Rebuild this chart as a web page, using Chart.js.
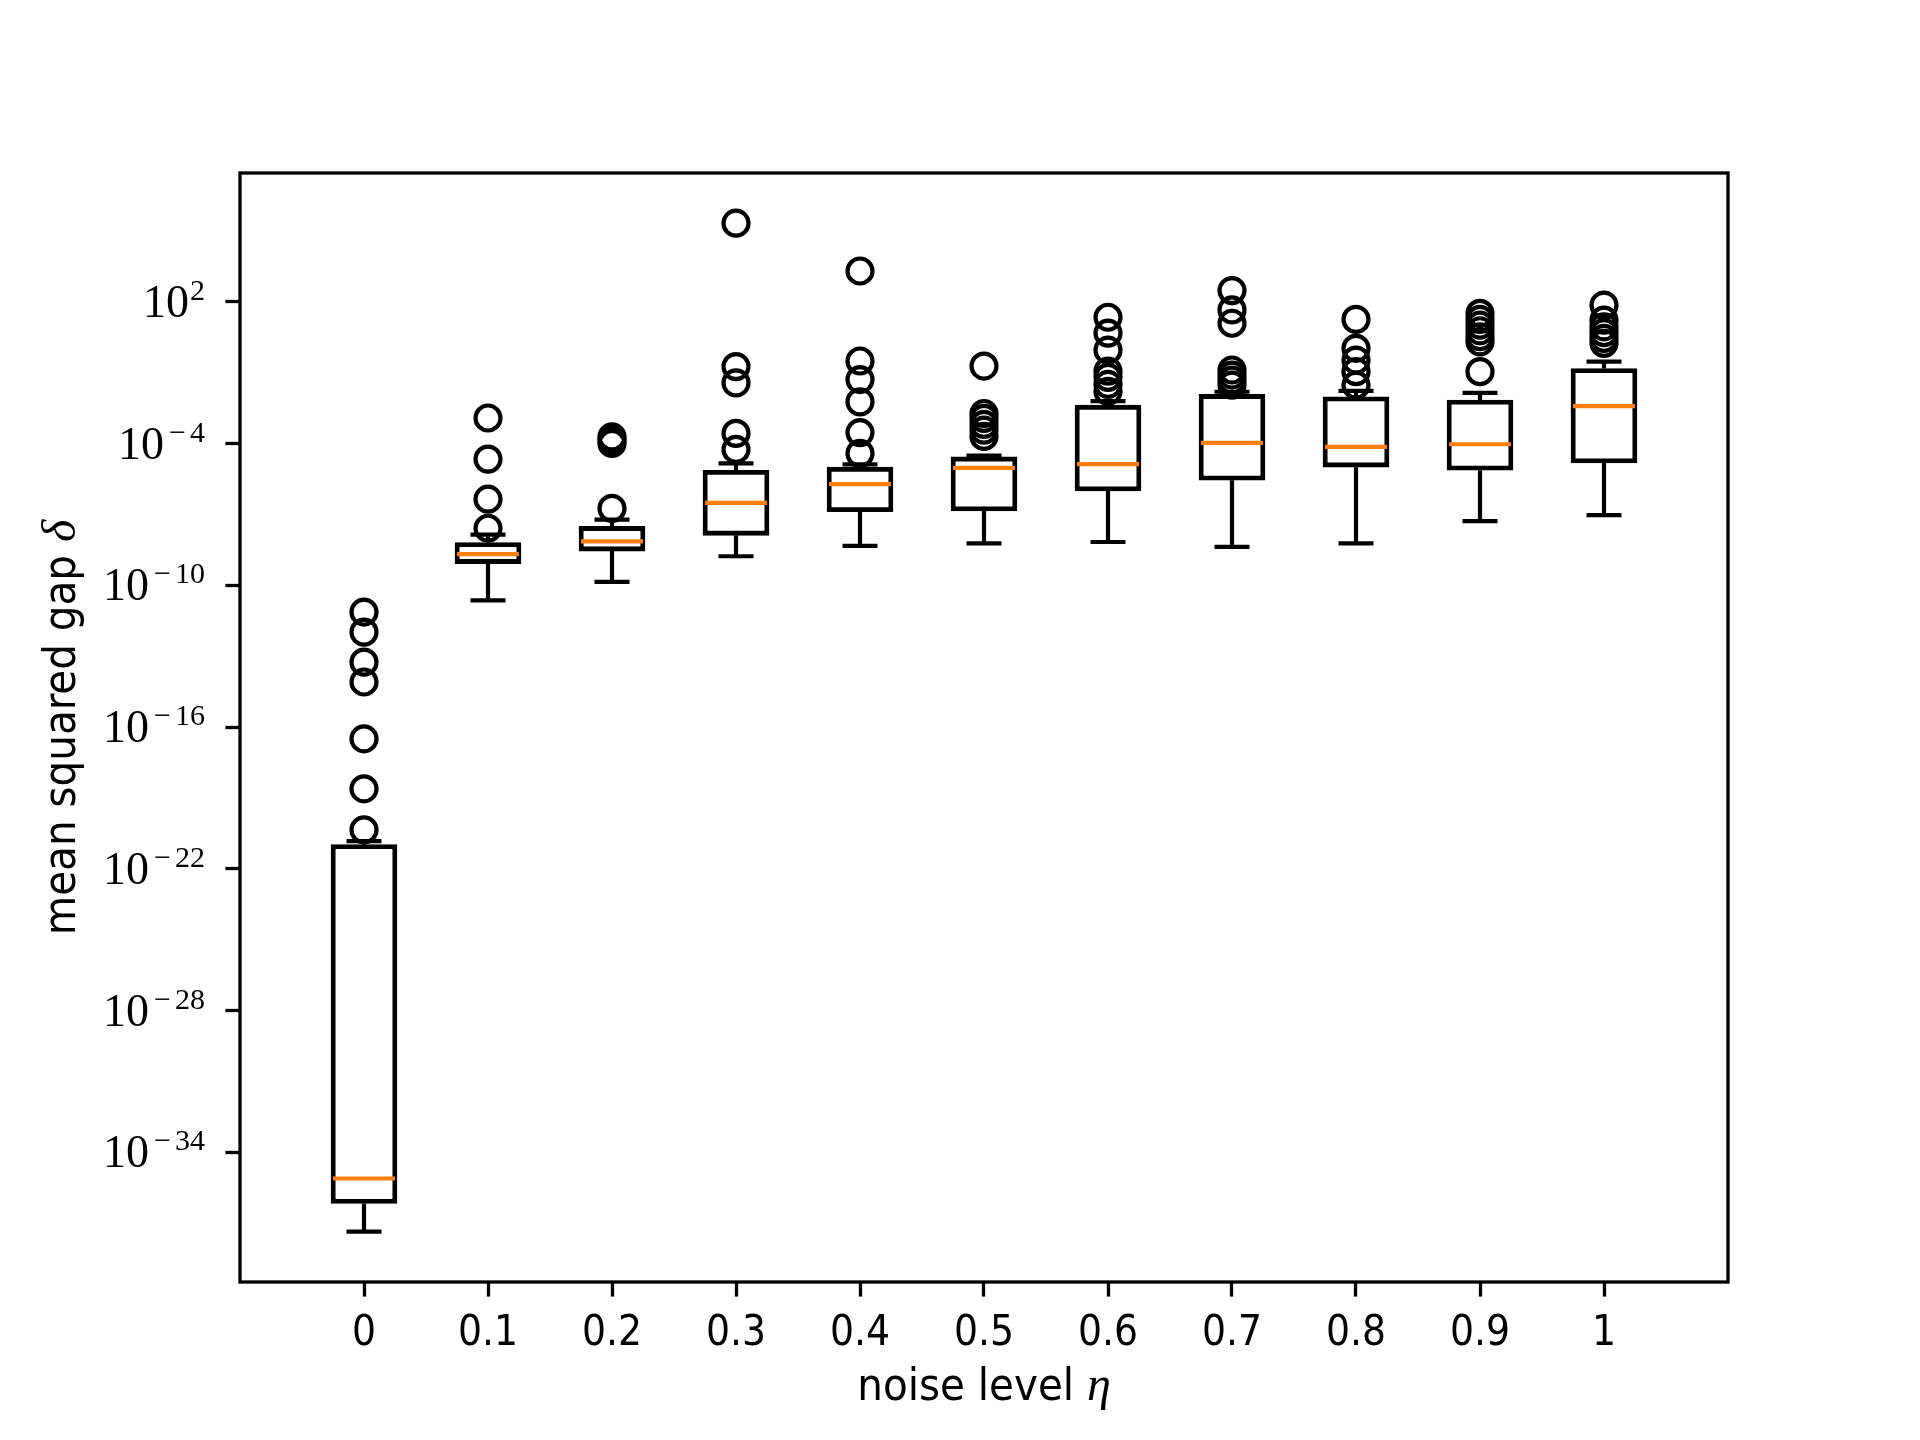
<!DOCTYPE html>
<html>
<head>
<meta charset="utf-8">
<script src="https://cdn.jsdelivr.net/npm/chart.js@4.4.1/dist/chart.umd.min.js"></script>
<style>
  body { margin: 0; background: #fff; }
  #wrap { width: 1920px; height: 1440px; }
</style>
</head>
<body>
<div id="wrap"><canvas id="myChart"></canvas></div>
<script>
// data
const noiseLevels = [0, 0.1, 0.2, 0.3, 0.4, 0.5, 0.6, 0.7, 0.8, 0.9, 1];
const xTickLabels = ['0', '0.1', '0.2', '0.3', '0.4', '0.5', '0.6', '0.7', '0.8', '0.9', '1'];
const yTickValues = [1e-34, 1e-28, 1e-22, 1e-16, 1e-10, 1e-4, 1e2];

const whiskerLow = [4.5e-38, 2.3e-11, 1.4e-10, 1.7e-9, 4.7e-9, 5.9e-9, 6.8e-9, 4.2e-9, 5.9e-9, 5.2e-8, 9.3e-8];
const q1 = [6.9e-37, 8.3e-10, 2.8e-9, 1.3e-8, 1.3e-7, 1.4e-7, 9.8e-7, 2.8e-6, 1.0e-5, 7.4e-6, 1.5e-5];
const medians = [7.9e-36, 2.1e-9, 7.2e-9, 3.1e-7, 1.9e-6, 9.3e-6, 1.35e-5, 1.07e-4, 7.2e-5, 9.3e-5, 3.8e-3];
const q3 = [1.07e-21, 6.5e-9, 3.1e-8, 7.4e-6, 1.0e-5, 2.7e-5, 4.2e-3, 1.2e-2, 9.5e-3, 6.9e-3, 0.15];
const whiskerHigh = [1.5e-21, 1.4e-8, 6.0e-8, 1.45e-5, 1.3e-5, 3.1e-5, 6.2e-3, 1.55e-2, 1.7e-2, 1.4e-2, 0.29];
const outliers = [
    [4.5e-21, 2.45e-19, 3.2e-17, 8.1e-15, 5.6e-14, 1.05e-12, 7.4e-12],
    [2.6e-8, 4.4e-7, 2.2e-5, 1.2e-3],
    [1.8e-7, 1.0e-4, 1.4e-4, 1.9e-4],
    [5.6e-5, 2.7e-4, 0.037, 0.18, 2.1e5],
    [3.8e-5, 2.9e-4, 5.8e-3, 0.051, 0.31, 2.0e3],
    [2.0e-4, 3.7e-4, 6.5e-4, 1.15e-3, 1.86e-3, 0.19],
    [0.016, 0.032, 0.063, 0.115, 0.89, 4.7, 22],
    [0.0295, 0.048, 0.079, 0.129, 12.3, 45, 295],
    [0.0295, 0.11, 0.34, 1.07, 17.8],
    [0.11, 2.0, 3.3, 5.9, 10.2, 17.8, 32],
    [1.74, 2.8, 4.9, 8.7, 16.6, 72]
];

// styles
const sansFont = '"DejaVu Sans Condensed", "Liberation Sans Narrow", sans-serif';
const serifFont = '"Liberation Serif", "DejaVu Serif", serif';
const medianColor = '#ff7f0e';
const boxWidth = 0.05; // in x units
const capWidth = 0.025;

const outlierPoints = [];
noiseLevels.forEach((lvl, i) => {
    outliers[i].forEach(v => outlierPoints.push({ x: lvl, y: v }));
});

// whiskers, caps, medians, frame and math labels
const boxParts = {
    id: 'boxParts',
    afterDatasetsDraw(chart) {
        const { ctx, scales: { x, y } } = chart;
        ctx.save();
        ctx.lineWidth = 4.2;
        noiseLevels.forEach((lvl, i) => {
            const xc = x.getPixelForValue(lvl);
            const halfBox = x.getPixelForValue(lvl + boxWidth / 2) - xc;
            const halfCap = x.getPixelForValue(lvl + capWidth / 2) - xc + 2;
            ctx.strokeStyle = '#000';
            ctx.lineCap = 'butt';
            ctx.beginPath();
            ctx.moveTo(xc, y.getPixelForValue(q3[i]));
            ctx.lineTo(xc, y.getPixelForValue(whiskerHigh[i]));
            ctx.moveTo(xc, y.getPixelForValue(q1[i]));
            ctx.lineTo(xc, y.getPixelForValue(whiskerLow[i]));
            ctx.moveTo(xc - halfCap, y.getPixelForValue(whiskerHigh[i]));
            ctx.lineTo(xc + halfCap, y.getPixelForValue(whiskerHigh[i]));
            ctx.moveTo(xc - halfCap, y.getPixelForValue(whiskerLow[i]));
            ctx.lineTo(xc + halfCap, y.getPixelForValue(whiskerLow[i]));
            ctx.stroke();
            ctx.strokeStyle = medianColor;
            ctx.beginPath();
            ctx.moveTo(xc - halfBox, y.getPixelForValue(medians[i]));
            ctx.lineTo(xc + halfBox, y.getPixelForValue(medians[i]));
            ctx.stroke();
        });
        ctx.restore();
    },
    afterDraw(chart) {
        const { ctx, chartArea: area, scales: { y } } = chart;
        ctx.save();
        // frame
        ctx.strokeStyle = '#000';
        ctx.lineWidth = 3.3;
        ctx.strokeRect(area.left, area.top, area.right - area.left, area.bottom - area.top);

        // y tick labels 10^n, with a wide math minus in the exponent
        ctx.fillStyle = '#000';
        ctx.textBaseline = 'alphabetic';
        const right = area.left - 35;
        const minusSlot = 25;
        yTickValues.forEach(v => {
            const py = y.getPixelForValue(v);
            const n = Math.round(Math.log10(v));
            const digits = String(Math.abs(n));
            ctx.font = '30px ' + serifFont;
            const digW = ctx.measureText(digits).width;
            const expW = digW + (n < 0 ? minusSlot : 0);
            const expX = right - expW;
            ctx.textAlign = 'left';
            if (n < 0) {
                ctx.textAlign = 'center';
                ctx.fillText('\u2212', expX + minusSlot / 2, py - 2);
                ctx.textAlign = 'left';
            }
            ctx.fillText(digits, right - digW, py - 2);
            ctx.font = '46px ' + serifFont;
            ctx.textAlign = 'right';
            ctx.fillText('10', expX - 1, py + 15);
        });

        // x axis title
        const cx = (area.left + area.right) / 2;
        ctx.font = '45px ' + sansFont;
        const t1 = 'noise level ';
        const w1 = ctx.measureText(t1).width;
        ctx.font = 'italic 48px ' + serifFont;
        const w2 = ctx.measureText('\u03b7').width;
        let sx = cx - (w1 + w2) / 2;
        ctx.textAlign = 'left';
        ctx.font = '45px ' + sansFont;
        ctx.fillText(t1, sx, 1400);
        ctx.font = 'italic 48px ' + serifFont;
        ctx.fillText('\u03b7', sx + w1, 1400);

        // y axis title
        const cy = (area.top + area.bottom) / 2;
        ctx.translate(75, cy);
        ctx.rotate(-Math.PI / 2);
        ctx.font = '45px ' + sansFont;
        const t3 = 'mean squared gap ';
        const w3 = ctx.measureText(t3).width;
        ctx.font = 'italic 48px ' + serifFont;
        const w4 = ctx.measureText('\u03b4').width;
        sx = -(w3 + w4) / 2;
        ctx.font = '45px ' + sansFont;
        ctx.fillText(t3, sx, 0);
        ctx.font = 'italic 48px ' + serifFont;
        ctx.fillText('\u03b4', sx + w3, 0);
        ctx.restore();
    }
};

const ctx = document.getElementById('myChart').getContext('2d');

const tickGrid = {
    display: true,
    drawOnChartArea: false,
    drawTicks: true,
    tickLength: 14.6,
    tickWidth: 3.3,
    tickColor: '#000',
    offset: false
};

const myChart = new Chart(ctx, {
    type: 'bar',
    data: {
        datasets: [{
            type: 'bar',
            data: noiseLevels.map((lvl, i) => ({ x: lvl, y: [q1[i], q3[i]] })),
            backgroundColor: 'rgba(0,0,0,0)',
            borderColor: '#000',
            borderWidth: 4.2,
            borderSkipped: false,
            barThickness: 66,
            grouped: false
        }, {
            type: 'scatter',
            data: outlierPoints,
            pointStyle: 'circle',
            pointRadius: 12.5,
            pointHoverRadius: 12.5,
            borderWidth: 4.2,
            borderColor: '#000',
            backgroundColor: 'rgba(0,0,0,0)'
        }]
    },
    options: {
        responsive: true,
        maintainAspectRatio: false,
        animation: false,
        layout: {
            padding: { left: 0, top: 173, right: 192, bottom: 0 }
        },
        plugins: {
            legend: { display: false },
            tooltip: { enabled: false }
        },
        scales: {
            x: {
                type: 'linear',
                min: -0.1,
                max: 1.1,
                bounds: 'data',
                offset: false,
                grid: tickGrid,
                border: { display: false },
                ticks: {
                    autoSkip: false,
                    maxRotation: 0,
                    padding: 12,
                    color: '#000',
                    font: { family: sansFont, size: 42 },
                    callback: (value, index) => xTickLabels[index]
                },
                afterBuildTicks: scale => {
                    scale.ticks = noiseLevels.map(v => ({ value: v }));
                },
                afterFit: scale => {
                    scale.height = 158;
                }
            },
            y: {
                type: 'logarithmic',
                min: 3.3e-40,
                max: 2.8e7,
                bounds: 'data',
                grid: tickGrid,
                border: { display: false },
                ticks: { display: false, autoSkip: false },
                afterBuildTicks: scale => {
                    scale.ticks = yTickValues.map(v => ({ value: v }));
                },
                afterFit: scale => {
                    scale.width = 240;
                }
            }
        }
    },
    plugins: [boxParts]
});
</script>
</body>
</html>
